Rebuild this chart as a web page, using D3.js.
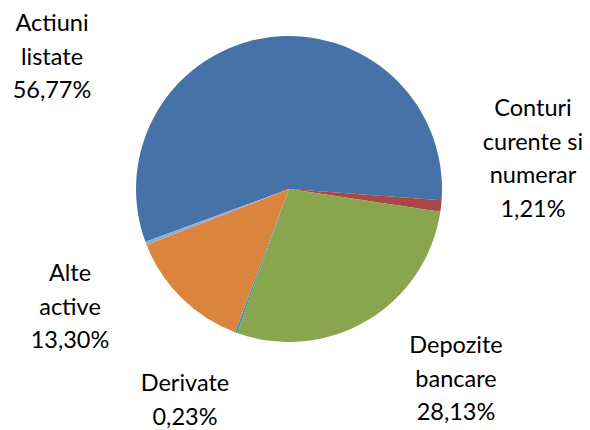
<!DOCTYPE html>
<html>
<head>
<meta charset="utf-8">
<script src="https://cdn.jsdelivr.net/npm/d3@7"></script>
<style>
  body { margin: 0; background: #fff; }
  text { font-family: Lato, "Open Sans", sans-serif; font-size: 23.5px; fill: #000; }
</style>
</head>
<body>
<div id="chart"></div>
<script>
// portfolio structure pie
const categories = ["Actiuni listate", "Conturi curente si numerar", "Depozite bancare", "Derivate", "Alte active", ""];
const values = [56.77, 1.21, 28.13, 0.23, 13.30, 0.36];
const labelLines = [
    ["Actiuni", "listate"],
    ["Conturi", "curente si", "numerar"],
    ["Depozite", "bancare"],
    ["Derivate"],
    ["Alte", "active"],
    []
];

// label anchors (layout only): centre x and first baseline of each label block
const labelPos = [[52, 31], [533, 116], [456, 353], [185, 391], [70, 281], null];
const colors = ["#4672A8", "#AA4643", "#89A54E", "#3D96AE", "#DB843D", "#93A9D0"];

const width = 590, height = 430;
const cx = 289, cy = 189, radius = 153;
const lineH = 33.5;

let svg = d3.select("#chart").append("svg")
    .attr("width", width)
    .attr("height", height);

let pie = d3.pie()
    .value(d => d)
    .sort(null)
    .startAngle(-110.2 * Math.PI / 180)
    .endAngle((360 - 110.2) * Math.PI / 180);

let arc = d3.arc()
    .innerRadius(0)
    .outerRadius(radius);

let g = svg.append("g")
    .attr("transform", `translate(${cx},${cy})`);

g.selectAll("path")
    .data(pie(values))
    .join("path")
    .attr("d", arc)
    .attr("fill", (d, i) => colors[i]);

const fmt = v => v.toFixed(2).replace(".", ",") + "%";

labelPos.forEach((p, i) => {
    if (!p) return;
    let t = svg.append("text")
        .attr("text-anchor", "middle")
        .attr("x", p[0])
        .attr("y", p[1]);
    let lines = labelLines[i].concat([fmt(values[i])]);
    lines.forEach((s, j) => {
        t.append("tspan")
            .attr("x", p[0])
            .attr("dy", j === 0 ? 0 : lineH)
            .text(s);
    });
});
</script>
</body>
</html>
